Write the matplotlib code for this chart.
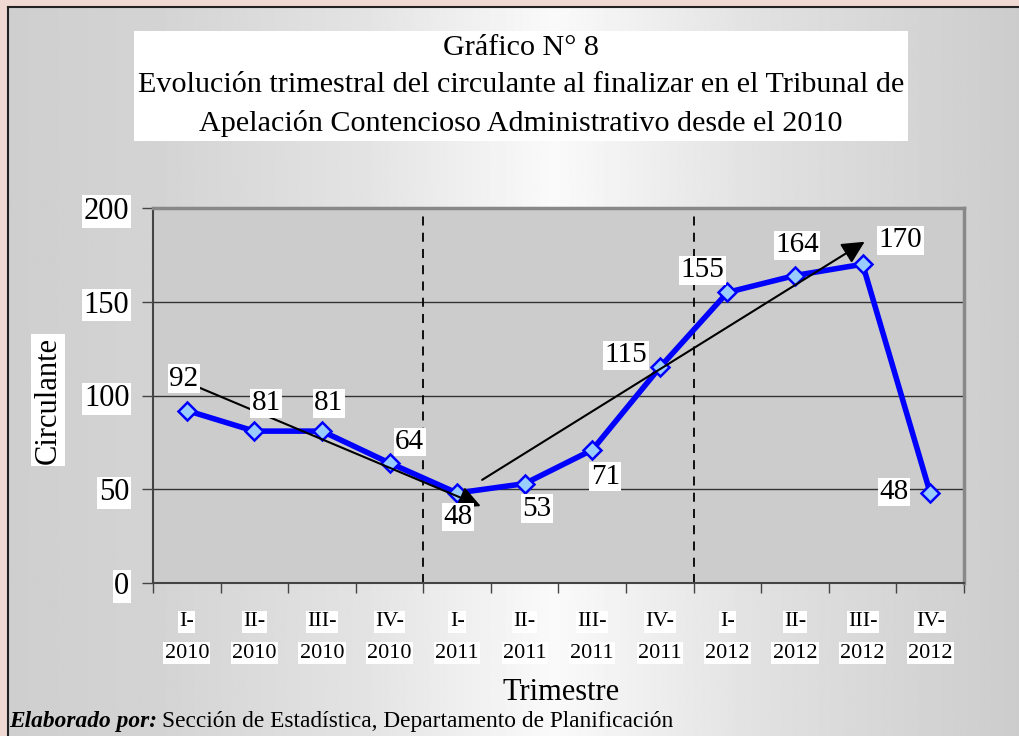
import numpy as np
import matplotlib
matplotlib.use("Agg")
import matplotlib.pyplot as plt

# data
quarters = ["I-2010", "II-2010", "III-2010", "IV-2010",
            "I-2011", "II-2011", "III-2011", "IV-2011",
            "I-2012", "II-2012", "III-2012", "IV-2012"]
circulante = [92, 81, 81, 64, 48, 53, 71, 115, 155, 164, 170, 48]
year_breaks = [3.5, 7.5]
# trend arrows: (x0, y0, x1, y1) in data units
trend_arrows = [(0.0, 107, 4.35, 41), (4.37, 55, 10.03, 182)]

title = ("Gráfico N° 8\n"
         "Evolución trimestral del circulante al finalizar en el Tribunal de\n"
         "Apelación Contencioso Administrativo desde el 2010")

# label offsets in pixels (layout only)
label_offsets = [(-3, 32), (12, 28), (7, 28), (20, 21), (1, -24), (12, -25),
                 (13, -27), (-34, 12), (-25, 22), (2, 30), (38, 24), (-36, 1)]

plt.rcParams["font.family"] = ["Liberation Serif", "DejaVu Serif"]
W, H = 1020, 736
fig = plt.figure(figsize=(W / 100, H / 100), dpi=100, facecolor="#f0d9d2")

# background panel with horizontal gradient
bg = fig.add_axes([8 / W, 0, 1 - 8 / W, 1 - 7 / H], zorder=-10)
stops_x = [0.0, 0.15, 0.35, 0.54, 0.75, 1.0]
stops_c = [0.81, 0.83, 0.89, 0.98, 0.88, 0.80]
xs = np.linspace(0, 1, 600)
g = np.interp(xs, stops_x, stops_c)
bg.imshow(np.tile(g, (2, 1)), cmap="gray", vmin=0, vmax=1, aspect="auto",
          extent=[0, 1, 0, 1])
bg.set_xticks([])
bg.set_yticks([])
for s in ["right", "bottom"]:
    bg.spines[s].set_visible(False)
for s in ["left", "top"]:
    bg.spines[s].set_color("#222222")
    bg.spines[s].set_linewidth(1.5)

# main axes
ax = fig.add_axes([153 / W, 1 - 583 / H, 811 / W, 375 / H])
ax.set_facecolor("#cccccc")
x = np.arange(len(quarters))

ax.set_xlim(-0.5, len(quarters) - 0.5)
ax.set_ylim(0, 200)
ax.set_yticks([0, 50, 100, 150, 200])
ax.set_xticks(np.arange(-0.5, len(quarters), 1))
ax.set_xticklabels([])
ax.tick_params(axis="y", direction="out", length=8, width=1, color="#444444",
               labelsize=22, pad=9)
ax.tick_params(axis="x", direction="out", length=7, width=1, color="#444444")
for lab in ax.get_yticklabels():
    lab.set_bbox(dict(facecolor="white", edgecolor="none", pad=1))

for yv in [50, 100, 150]:
    ax.axhline(yv, color="#333333", lw=1, zorder=1)
for xb in year_breaks:
    ax.axvline(xb, color="black", ls=(0, (5, 4)), lw=1.3, zorder=1)

ax.spines["left"].set_color("#444444")
ax.spines["bottom"].set_color("#444444")
ax.spines["left"].set_linewidth(1.5)
ax.spines["bottom"].set_linewidth(1.5)
ax.spines["top"].set_color("#888888")
ax.spines["right"].set_color("#888888")
ax.spines["top"].set_linewidth(2.5)
ax.spines["right"].set_linewidth(2.5)

ax.plot(x, circulante, color="#0000ff", lw=4, marker="D", markersize=9.5,
        markerfacecolor="#99ccff", markeredgecolor="#0000ff",
        markeredgewidth=1.8, zorder=3)

for (x0, y0, x1, y1) in trend_arrows:
    ax.annotate("", xy=(x1, y1), xytext=(x0, y0),
                arrowprops=dict(arrowstyle="-|>", color="black", lw=1.5,
                                mutation_scale=34, shrinkA=0, shrinkB=0),
                zorder=4)

for xi, v, (dx, dy) in zip(x, circulante, label_offsets):
    ax.annotate(str(v), xy=(xi, v), xytext=(dx, dy), textcoords="offset pixels",
                ha="center", va="center", fontsize=21, zorder=5,
                bbox=dict(facecolor="white", edgecolor="none", pad=1))

# two-line category labels, each line in its own white box
for xi, q in zip(x, quarters):
    part, year = q.split("-")
    ax.annotate(part + "-", xy=(xi, -0.104), xycoords=("data", "axes fraction"),
                ha="center", va="center", fontsize=16,
                bbox=dict(facecolor="white", edgecolor="none", pad=1))
    ax.annotate(year, xy=(xi, -0.187), xycoords=("data", "axes fraction"),
                ha="center", va="center", fontsize=16,
                bbox=dict(facecolor="white", edgecolor="none", pad=1))

ax.set_ylabel("Circulante", fontsize=22, va="center",
              bbox=dict(facecolor="white", edgecolor="none", pad=2))
ax.yaxis.set_label_coords((48 - 153) / 811, (583 - 400) / 375)
ax.set_xlabel("Trimestre", fontsize=22, va="center")
ax.xaxis.set_label_coords((561 - 153) / 811, (583 - 692) / 375)

fig.text(521 / W, 1 - 86 / H, title, ha="center", va="center",
         multialignment="center", fontsize=21.7, linespacing=1.55,
         bbox=dict(facecolor="white", edgecolor="none", pad=3))

t1 = fig.text(9 / W, 1 - 722 / H, "Elaborado por:", fontsize=16.8,
              fontweight="bold", fontstyle="italic", va="center", ha="left")
fig.canvas.draw()
bb = t1.get_window_extent()
fig.text((bb.x1 + 5) / W, 1 - 722 / H,
         "Sección de Estadística, Departamento de Planificación",
         fontsize=16.8, va="center", ha="left")

fig.savefig("out.png", dpi=100, facecolor=fig.get_facecolor())
